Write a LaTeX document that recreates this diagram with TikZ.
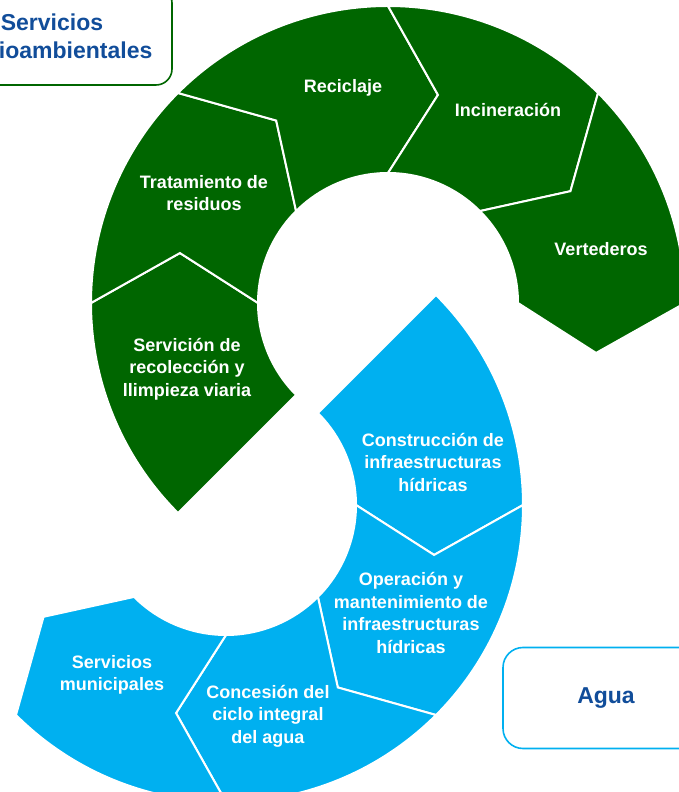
\documentclass[tikz,border=0pt]{standalone}
\usepackage{fontspec}
\setmainfont{Liberation Sans}
\usepackage{xcolor}
\usepackage{tikz}
\definecolor{envgreen}{HTML}{006600}
\definecolor{waterblue}{HTML}{00B0F0}
\definecolor{titleblue}{HTML}{114D9A}

\begin{document}
\begin{tikzpicture}[x=1pt, y=1pt,
    seglabel/.style={text=white, font=\bfseries\fontsize{18}{22.5}\selectfont, align=center},
    groupbox/.style={rounded corners=16pt, line width=1.6pt, fill=white, text=titleblue,
        font=\bfseries\fontsize{23}{28}\selectfont, align=center}]
    \useasboundingbox (0,0) rectangle (679,792);
    \clip (0,0) rectangle (679,792);

    % Ring radii and chevron tip offset (deg)
    \def\rin{130pt}
    \def\rout{297pt}
    \def\rmid{214pt}
    \def\tip{13.5}

    % Green ring, clockwise from 225 to 0 deg
    \begin{scope}[shift={(388,489)}]
        \foreach \a/\nt in {225/0, 180/13.5, 135/13.5, 90/13.5, 45/13.5} {
            \pgfmathsetmacro{\b}{\a-45}
            \fill[envgreen, draw=white, line width=2pt]
                (\a:\rout) arc[start angle=\a, end angle=\b, radius=\rout]
                -- ({\b-\tip}:\rmid) -- (\b:\rin)
                arc[start angle=\b, end angle=\a, radius=\rin]
                -- ({\a-\nt}:\rmid) -- cycle;
        }
    \end{scope}

    % Blue ring, clockwise from 45 to -135 deg
    \begin{scope}[shift={(226,287)}]
        \foreach \a/\nt in {45/0, 0/13.5, -45/13.5, -90/13.5} {
            \pgfmathsetmacro{\b}{\a-45}
            \fill[waterblue, draw=white, line width=2pt]
                (\a:\rout) arc[start angle=\a, end angle=\b, radius=\rout]
                -- ({\b-\tip}:\rmid) -- (\b:\rin)
                arc[start angle=\b, end angle=\a, radius=\rin]
                -- ({\a-\nt}:\rmid) -- cycle;
        }
    \end{scope}

    % Segment labels
    \node[seglabel] (recogida) at (187,423) {Servición de\\recolección y\\llimpieza viaria};
    \node[seglabel] (tratamiento) at (204,599) {Tratamiento de\\residuos};
    \node[seglabel] (reciclaje) at (343,704) {Reciclaje};
    \node[seglabel] (incineracion) at (508,682) {Incineración};
    \node[seglabel] (vertederos) at (601,543) {Vertederos};

    \node[seglabel] (construccion) at (433,330) {Construcción de\\infraestructuras\\hídricas};
    \node[seglabel] (operacion) at (411,179) {Operación y\\mantenimiento de\\infraestructuras\\hídricas};
    \node[seglabel] (concesion) at (268,76) {Concesión del\\ciclo integral\\del agua};
    \node[seglabel] (municipales) at (112,117) {Servicios\\municipales};

    % Group boxes
    \node[groupbox, draw=envgreen, minimum width=240pt, minimum height=98pt]
        (medioambiente) at (52,756) {Servicios\\medioambientales};
    \node[groupbox, draw=waterblue, rounded corners=20pt, minimum width=206pt, minimum height=101pt]
        (agua) at (606,94) {Agua};
\end{tikzpicture}
\end{document}
